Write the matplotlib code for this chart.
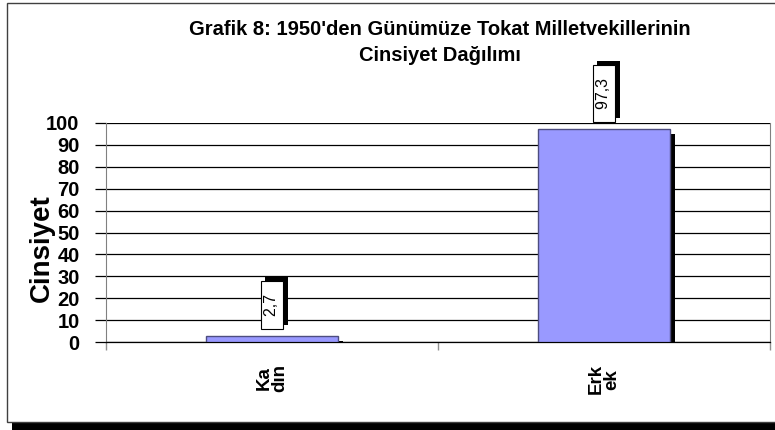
import matplotlib
matplotlib.use("Agg")
import matplotlib.pyplot as plt
from matplotlib import font_manager
from matplotlib.patches import Rectangle
import matplotlib.patheffects as pe
import matplotlib.transforms as mtransforms

# data
categories = ["Ka\ndın", "Erk\nek"]
values = [2.7, 97.3]
yticks = list(range(0, 101, 10))
title = "Grafik 8: 1950'den Günümüze Tokat Milletvekillerinin\nCinsiyet Dağılımı"
ylabel = "Cinsiyet"

fontNames = {f.name for f in font_manager.fontManager.ttflist}
if "Liberation Sans Narrow" in fontNames:
	narrow = "Liberation Sans Narrow"
	tickSize = 17
	catSize = 16
else:
	narrow = "Liberation Sans"
	tickSize = 14.5
	catSize = 13.5

plt.rcParams['font.family'] = ['Liberation Sans', 'DejaVu Sans']

fig = plt.figure(figsize=(7.75, 4.3), dpi=100)
fig.patch.set_facecolor("white")

# outer frame with black shadow
W, H = 775.0, 430.0
fig.patches.append(Rectangle((12/W, 0), 1, (430-8)/H, transform=fig.transFigure,
	facecolor="black", edgecolor="none", zorder=0))
fig.patches.append(Rectangle((7/W, 8/H), 1, (422-3)/H, transform=fig.transFigure,
	facecolor="white", edgecolor="#404040", linewidth=1.0, zorder=0.5))

ax = fig.add_axes([106/W, 1-342/H, 664/W, 219/H])
ax.set_zorder(2)
ax.set_facecolor("none")

x = list(range(len(values)))

# shadow bars shifted right and down
shadowTrans = mtransforms.offset_copy(ax.transData, fig=fig, x=5, y=-5, units='dots')
ax.bar(x, values, width=0.4, color="black", edgecolor="none", transform=shadowTrans, zorder=2)
ax.bar(x, values, width=0.4, color="#9999FF", edgecolor="#4d4d80", linewidth=1.0, zorder=3)

for i, v in enumerate(values):
	lbl = "  " + str(v).replace(".", ",") + "  "
	t = ax.annotate(lbl, xy=(i, v), xytext=(0, 8), textcoords="offset points",
		rotation=90, ha="center", va="bottom", fontsize=11.5, color="black",
		bbox=dict(boxstyle="square,pad=0.25", fc="white", ec="black", lw=0.8), zorder=5)
	t.get_bbox_patch().set_path_effects([
		pe.SimplePatchShadow(offset=(3, 3), shadow_rgbFace="black", alpha=1.0),
		pe.Normal()])

ax.set_xlim(-0.5, len(values) - 0.5)
ax.set_ylim(0, 100)
ax.set_yticks(yticks)
ax.set_yticklabels([str(t) for t in yticks], fontsize=tickSize, fontweight="bold", family=narrow)
ax.yaxis.grid(True, color="black", linewidth=0.9, zorder=1)
ax.set_axisbelow(True)
ax.tick_params(axis="y", length=8, width=0.9, color="black", pad=11)

ax.set_xticks(x)
ax.set_xticklabels(categories, rotation=90, fontsize=catSize, fontweight="bold", family=narrow,
	linespacing=0.85, multialignment="center")
ax.tick_params(axis="x", length=0, pad=16)
ax.set_xticks([i - 0.5 for i in range(len(values) + 1)], minor=True)
ax.tick_params(axis="x", which="minor", length=6, width=1.0, color="#909090")

ax.spines["top"].set_visible(False)
ax.spines["left"].set_color("#808080")
ax.spines["right"].set_color("#808080")
ax.spines["bottom"].set_color("black")
ax.spines["bottom"].set_linewidth(0.9)

ax.set_ylabel(ylabel, fontsize=20, fontweight="bold")
ax.yaxis.set_label_coords(-0.077, 0.43)

fig.text(440/W, 1-42.5/H, title, ha="center", va="center", fontsize=14.5, fontweight="bold",
	linespacing=1.45)

fig.savefig("out.png", dpi=100, facecolor="white")
